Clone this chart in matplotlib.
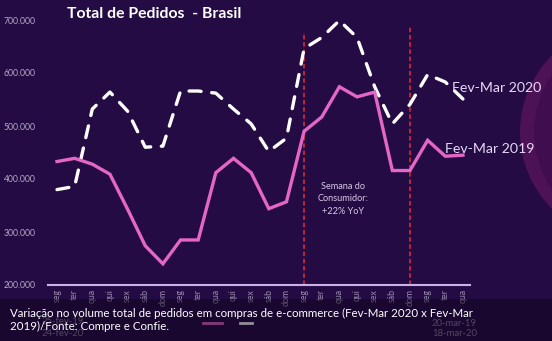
import numpy as np
import matplotlib.pyplot as plt
from matplotlib.patches import Circle, Rectangle

plt.rcParams['font.family'] = ['Lato', 'DejaVu Sans']

dias = ['seg', 'ter', 'qua', 'qui', 'sex', 'sáb', 'dom'] * 3 + ['seg', 'ter', 'qua']
pedidos_2019 = [433000, 439000, 428000, 409000, 343000, 274000, 240000, 285000,
                285000, 412000, 439000, 412000, 344000, 357000, 490000, 517000,
                574000, 555000, 564000, 416000, 416000, 473000, 443000, 445000]
pedidos_2020 = [380000, 386000, 532000, 564000, 528000, 460000, 462000, 566000,
                566000, 562000, 532000, 504000, 452000, 477000, 646000, 667000,
                699000, 667000, 574000, 504000, 541000, 597000, 583000, 551000]
semana_consumidor = [14, 20]

bg = '#240b43'
W, H = 552, 341
fig = plt.figure(figsize=(W / 100, H / 100), dpi=100, facecolor=bg)

# background layer in pixel coords
bgax = fig.add_axes([0, 0, 1, 1], zorder=0)
bgax.set_xlim(0, W)
bgax.set_ylim(H, 0)
bgax.axis('off')
bgax.add_patch(Circle((628, 132), 108, color='#4d1256', lw=0))
bgax.add_patch(Circle((634, 132), 100, color='#400e4e', lw=0))

ax = fig.add_axes([48 / W, (H - 285) / H, 422 / W, 265 / H], zorder=1)
ax.patch.set_alpha(0)
x = np.arange(len(dias))
ax.set_xlim(-0.51, 23.4)
ax.set_ylim(200000, 700000)

ax.plot(x, pedidos_2020, color='white', lw=2.4, linestyle=(0, (3.6, 3.2)),
        dash_capstyle='round', clip_on=False, zorder=3)
ax.plot(x, pedidos_2019, color='#e466c6', lw=2.4, solid_joinstyle='miter',
        clip_on=False, zorder=4)

for xi, top in zip(semana_consumidor, [0.956, 0.98]):
    ax.axvline(xi, ymin=0, ymax=top, color='#c8283a', lw=1.3,
               linestyle=(0, (2.5, 1.5)), zorder=2)

for s in ['top', 'right', 'left']:
    ax.spines[s].set_visible(False)
ax.spines['bottom'].set_color('#c9b2ea')
ax.spines['bottom'].set_linewidth(1.5)

yt = [200000, 300000, 400000, 500000, 600000, 700000]
ax.set_yticks(yt)
ax.set_yticklabels([f'{v:,}'.replace(',', '.') for v in yt])
ax.set_xticks(x)
ax.set_xticklabels(dias, rotation=90)
ax.tick_params(axis='y', length=0, pad=9, labelsize=6.2, labelcolor='#b4aac6')
ax.tick_params(axis='x', length=0, pad=3, labelsize=6.3, labelcolor='#9a90ae')

ax.text(16.2, 363000, 'Semana do\nConsumidor:\n+22% YoY', ha='center', va='center',
        fontsize=6.6, color='#d6cae6', linespacing=1.5)
ax.text(22.4, 572000, 'Fev-Mar 2020', fontsize=10.2, color='#e6d8f6', va='center',
        clip_on=False)
ax.text(22.0, 456000, 'Fev-Mar 2019', fontsize=10.2, color='#e6d8f6', va='center',
        clip_on=False)

fig.text(67 / W, 1 - 14 / H, 'Total de Pedidos  - Brasil', fontsize=11.3,
         fontweight='bold', color='white', va='center', ha='left')

# dates and legend marks sitting under the caption band
for px, py, t in [(42, 322, '25-fev-19'), (42, 334, '24-fev-20'),
                  (432, 323, '20-mar-19'), (432, 334, '18-mar-20')]:
    bgax.text(px, py, t, fontsize=6.8, color='#8a7f9c', va='center', zorder=2)
bgax.plot([203, 222], [323, 323], color='#e466c6', lw=2, zorder=2)
bgax.plot([240, 252], [323, 323], color='white', lw=2, zorder=2)

band = Rectangle((0, 299), W, H - 299, color='#0c0418', alpha=0.45, lw=0,
                 transform=bgax.transData, zorder=5)
fig.patches.append(band)
fig.text(10 / W, 1 - 320 / H,
         'Variação no volume total de pedidos em compras de e-commerce (Fev-Mar 2020 x Fev-Mar\n'
         '2019)/Fonte: Compre e Confie.',
         fontsize=8.3, color='white', va='center', ha='left', linespacing=1.3,
         zorder=6)

fig.savefig('out.png', dpi=100, facecolor=bg)
